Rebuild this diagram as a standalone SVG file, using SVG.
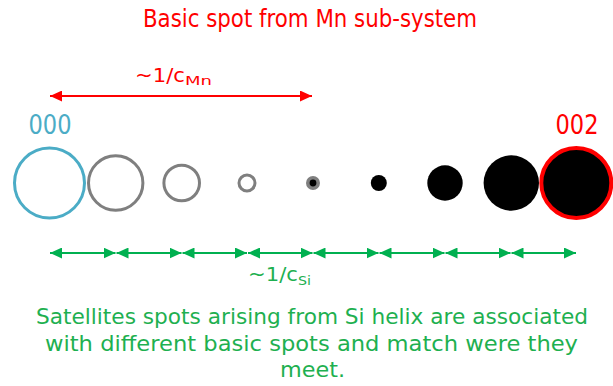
<svg xmlns="http://www.w3.org/2000/svg" width="613" height="386" viewBox="0 0 613 386">
<defs>
<style>
text{font-family:"DejaVu Sans","Liberation Sans",sans-serif}
.red{fill:#FF0000}
.grn{fill:#1EB050}
.blu{fill:#4BACC6}
.ring{fill:#FFFFFF;stroke:#7F7F7F;stroke-width:3}
.dot{fill:#000000}
.ga{stroke:#00B050;stroke-width:2;fill:none;marker-start:url(#ag);marker-end:url(#ag)}
.ra{stroke:#FF0000;stroke-width:2;fill:none;marker-start:url(#ar);marker-end:url(#ar)}
</style>
<marker id="ag" markerUnits="userSpaceOnUse" markerWidth="12" markerHeight="11" refX="12" refY="5.5" orient="auto-start-reverse"><path d="M0,0 L12,5.5 L0,11 Z" fill="#00B050"/></marker>
<marker id="ar" markerUnits="userSpaceOnUse" markerWidth="12" markerHeight="11" refX="12" refY="5.5" orient="auto-start-reverse"><path d="M0,0 L12,5.5 L0,11 Z" fill="#FF0000"/></marker>
</defs>
<rect width="613" height="386" fill="#FFFFFF"/>
<text id="title" class="red" x="310" y="27" font-size="24" text-anchor="middle" textLength="334" lengthAdjust="spacingAndGlyphs">Basic spot from Mn sub-system</text>
<g id="connectors">
<line class="ra" x1="50" y1="96" x2="312" y2="96"/>
<line class="ga" x1="50" y1="253" x2="115.5" y2="253"/>
<line class="ga" x1="116.5" y1="253" x2="181.5" y2="253"/>
<line class="ga" x1="182.5" y1="253" x2="247" y2="253"/>
<line class="ga" x1="248" y1="253" x2="312.5" y2="253"/>
<line class="ga" x1="313.5" y1="253" x2="378.5" y2="253"/>
<line class="ga" x1="379.5" y1="253" x2="444.5" y2="253"/>
<line class="ga" x1="445.5" y1="253" x2="510.5" y2="253"/>
<line class="ga" x1="511.5" y1="253" x2="576" y2="253"/>
</g>
<text id="label-mn" class="red" x="135" y="82" font-size="20"><tspan textLength="50" lengthAdjust="spacingAndGlyphs">~1/c</tspan><tspan font-size="13" dy="3" textLength="27" lengthAdjust="spacingAndGlyphs">Mn</tspan></text>
<text id="label-si" class="grn" x="248" y="281" font-size="20"><tspan textLength="50" lengthAdjust="spacingAndGlyphs">~1/c</tspan><tspan font-size="13" dy="4" textLength="13" lengthAdjust="spacingAndGlyphs">Si</tspan></text>
<g id="spot000">
<text class="blu" x="50" y="134" font-size="26" text-anchor="middle" textLength="43" lengthAdjust="spacingAndGlyphs">000</text>
<circle cx="49.5" cy="183" r="35" fill="#FFFFFF" stroke="#4BACC6" stroke-width="3"/>
</g>
<g id="spot1"><circle class="ring" cx="115.7" cy="183" r="27.2"/></g>
<g id="spot2"><circle class="ring" cx="181.7" cy="183" r="17.8"/></g>
<g id="spot3"><circle class="ring" cx="247" cy="183" r="8"/></g>
<g id="spot4"><circle cx="313" cy="183" r="5.2" fill="#000000" stroke="#7F7F7F" stroke-width="3.6"/></g>
<g id="spot5"><circle class="dot" cx="378.8" cy="183" r="8"/></g>
<g id="spot6"><circle class="dot" cx="445" cy="183" r="17.7"/></g>
<g id="spot7"><circle class="dot" cx="511.3" cy="183" r="27.7"/></g>
<g id="spot002">
<text class="red" x="577" y="134" font-size="26" text-anchor="middle" textLength="43" lengthAdjust="spacingAndGlyphs">002</text>
<circle cx="576.3" cy="183" r="35" fill="#000000" stroke="#FF0000" stroke-width="4"/>
</g>
<g id="caption" class="grn" font-size="22" text-anchor="middle">
<text x="312" y="324" textLength="552" lengthAdjust="spacingAndGlyphs">Satellites spots arising from Si helix are associated</text>
<text x="311.5" y="351" textLength="533" lengthAdjust="spacingAndGlyphs">with different basic spots and match were they</text>
<text x="312.5" y="377" textLength="65" lengthAdjust="spacingAndGlyphs">meet.</text>
</g>
</svg>
